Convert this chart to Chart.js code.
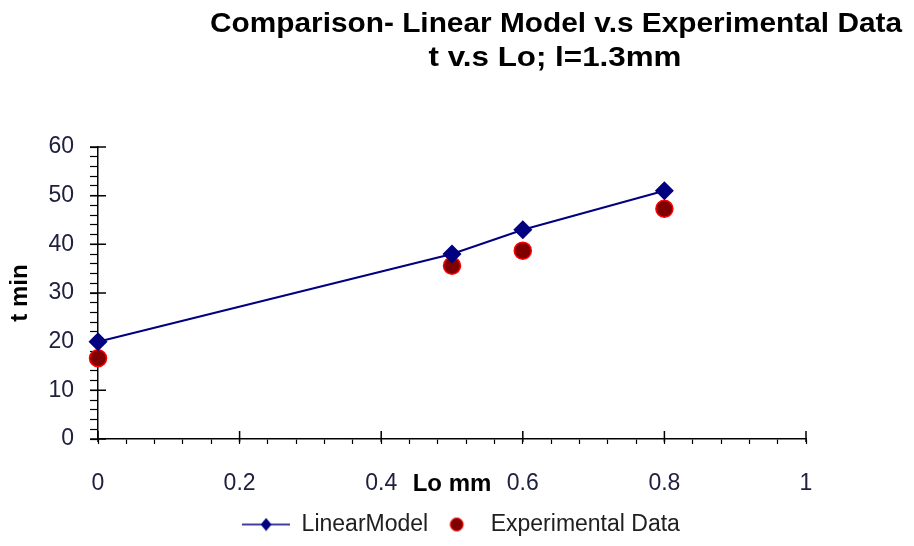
<!DOCTYPE html>
<html>
<head>
<meta charset="utf-8">
<script src="https://cdn.jsdelivr.net/npm/chart.js@4.4.1/dist/chart.umd.min.js"></script>
<style>
  html, body { margin: 0; padding: 0; background: #ffffff; }
  #wrap { width: 914px; height: 546px; position: relative; }
</style>
</head>
<body>
<div id="wrap"><canvas id="c" width="914" height="546"></canvas></div>
<script>
// Lo (mm) positions and time (min) values
const loValues = [0, 0.5, 0.6, 0.8];
const linearModel = [20, 38, 43, 51];
const experimental = [16.6, 35.6, 38.7, 47.3];

// Labelled (major) ticks on each axis
const xTickLabels = ['0', '0.2', '0.4', '0.6', '0.8', '1'];
const yTickLabels = ['0', '10', '20', '30', '40', '50', '60'];

const seriesNames = ['LinearModel', 'Experimental Data'];
const titleLines = ['Comparison- Linear Model v.s Experimental Data', 't v.s Lo; l=1.3mm'];

const FONT = '"Liberation Sans", Arial, Helvetica, sans-serif';
const NAVY = '#000080';
const DARK_RED = '#800000';
const RED = '#ff0000';

// Legend icons: line with a diamond, and a filled dot
function lineDiamondIcon() {
  const c = document.createElement('canvas');
  c.width = 48; c.height = 14;
  const g = c.getContext('2d');
  g.strokeStyle = NAVY; g.lineWidth = 1.5;
  g.beginPath(); g.moveTo(0, 7); g.lineTo(48, 7); g.stroke();
  g.fillStyle = NAVY;
  g.beginPath();
  g.moveTo(24, 0.5); g.lineTo(29.5, 7); g.lineTo(24, 13.5); g.lineTo(18.5, 7);
  g.closePath(); g.fill();
  return c;
}
function dotIcon() {
  const c = document.createElement('canvas');
  c.width = 48; c.height = 16;
  const g = c.getContext('2d');
  g.fillStyle = DARK_RED; g.strokeStyle = RED; g.lineWidth = 1;
  g.beginPath(); g.arc(25.5, 8, 6.5, 0, Math.PI * 2); g.fill(); g.stroke();
  return c;
}
const legendIcons = [lineDiamondIcon(), dotIcon()];

// Two-line heading, each line fitted to its own width
const headingPlugin = {
  id: 'heading',
  afterDraw(chart) {
    const ctx = chart.ctx;
    const specs = [{ cx: 556, y: 32, w: 692 }, { cx: 555, y: 66, w: 253 }];
    ctx.save();
    ctx.fillStyle = '#000';
    ctx.font = 'bold 28px ' + FONT;
    ctx.textAlign = 'center';
    ctx.textBaseline = 'alphabetic';
    titleLines.forEach((t, i) => {
      const s = specs[i];
      const m = ctx.measureText(t).width;
      ctx.save();
      ctx.translate(s.cx, s.y);
      ctx.scale(s.w / m, 1);
      ctx.fillText(t, 0, 0);
      ctx.restore();
    });
    ctx.restore();
  }
};

// Major tick marks that cross the axis lines
const majorTicksPlugin = {
  id: 'majorTicks',
  beforeDatasetsDraw(chart) {
    const { ctx, chartArea, scales: { x, y } } = chart;
    ctx.save();
    ctx.strokeStyle = '#000';
    ctx.lineWidth = 1.5;
    ctx.beginPath();
    yTickLabels.forEach(l => {
      const py = y.getPixelForValue(Number(l));
      ctx.moveTo(chartArea.left - 8, py);
      ctx.lineTo(chartArea.left + 8, py);
    });
    xTickLabels.forEach(l => {
      const px = x.getPixelForValue(Number(l));
      ctx.moveTo(px, chartArea.bottom - 8);
      ctx.lineTo(px, chartArea.bottom + 3);
    });
    ctx.stroke();
    ctx.restore();
  }
};

function majorLabel(v, step, labels) {
  const k = v / step;
  const r = Math.round(k);
  return Math.abs(k - r) < 1e-6 ? labels[r] : '';
}

new Chart(document.getElementById('c'), {
  type: 'scatter',
  data: {
    datasets: [
      {
        label: seriesNames[0],
        data: loValues.map((x, i) => ({ x, y: linearModel[i] })),
        showLine: true,
        borderColor: NAVY,
        borderWidth: 2,
        tension: 0,
        pointStyle: 'rectRot',
        pointRadius: 9.5,
        pointHoverRadius: 9.5,
        pointBackgroundColor: NAVY,
        pointBorderColor: NAVY,
        pointBorderWidth: 0,
        clip: false,
        order: 1
      },
      {
        label: seriesNames[1],
        data: loValues.map((x, i) => ({ x, y: experimental[i] })),
        showLine: false,
        pointStyle: 'circle',
        pointRadius: 8.5,
        pointHoverRadius: 8.5,
        pointBackgroundColor: DARK_RED,
        pointBorderColor: RED,
        pointBorderWidth: 1.5,
        clip: false,
        order: 2
      }
    ]
  },
  options: {
    responsive: false,
    animation: false,
    devicePixelRatio: 1,
    layout: { padding: { left: 8, top: 147, right: 0, bottom: 0 } },
    scales: {
      x: {
        type: 'linear',
        min: 0,
        max: 1,
        afterFit(s) { s.height = 71; },
        border: { display: true, color: '#000', width: 1.5 },
        grid: { display: true, drawOnChartArea: false, drawTicks: true, tickLength: 5, tickColor: '#000', tickWidth: 1.2 },
        ticks: {
          stepSize: 0.04,
          autoSkip: false,
          maxRotation: 0,
          padding: 26,
          color: '#202040',
          font: { family: FONT, size: 23 },
          callback: v => majorLabel(v, 0.2, xTickLabels)
        },
        title: {
          display: true,
          text: 'Lo mm',
          color: '#000',
          font: { family: FONT, size: 24, weight: 'bold', lineHeight: 1 },
          padding: { top: 0, bottom: 14 }
        }
      },
      y: {
        type: 'linear',
        position: 'left',
        min: 0,
        max: 60,
        afterFit(s) { s.width = 90; },
        border: { display: true, color: '#000', width: 1.5 },
        grid: { display: true, drawOnChartArea: false, drawTicks: true, tickLength: 8, tickColor: '#000', tickWidth: 1.2 },
        ticks: {
          stepSize: 2,
          autoSkip: false,
          padding: 16,
          color: '#202040',
          font: { family: FONT, size: 23 },
          callback: v => majorLabel(v, 10, yTickLabels)
        },
        title: {
          display: true,
          text: 't min',
          color: '#000',
          font: { family: FONT, size: 24, weight: 'bold', lineHeight: 1 },
          padding: { top: 0, bottom: 0 }
        }
      },
      rightSpace: {
        type: 'linear',
        position: 'right',
        display: true,
        afterFit(s) { s.width = 108; },
        border: { display: false },
        grid: { display: false },
        ticks: { display: false }
      }
    },
    plugins: {
      title: { display: false },
      tooltip: { enabled: false },
      legend: {
        display: true,
        position: 'bottom',
        labels: {
          usePointStyle: true,
          pointStyleWidth: 48,
          padding: 3,
          color: '#202020',
          font: { family: FONT, size: 23, lineHeight: 1 },
          generateLabels(chart) {
            const items = Chart.defaults.plugins.legend.labels.generateLabels(chart);
            items.forEach((it, i) => { it.pointStyle = legendIcons[i]; });
            return items;
          }
        }
      }
    }
  },
  plugins: [headingPlugin, majorTicksPlugin]
});
</script>
</body>
</html>
